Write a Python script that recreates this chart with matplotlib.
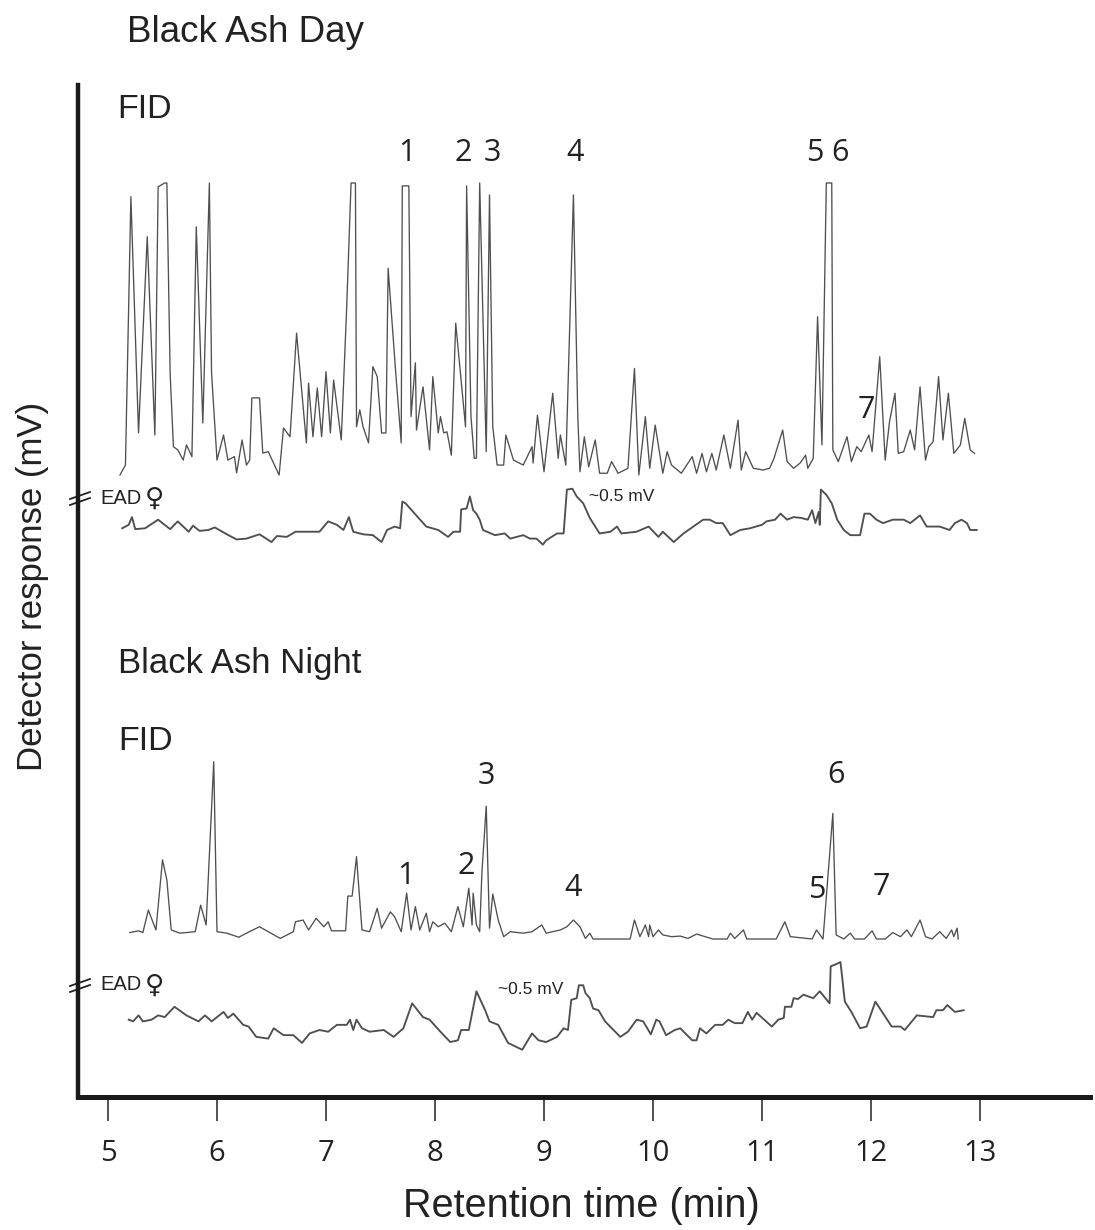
import matplotlib
matplotlib.use("Agg")
import matplotlib.pyplot as plt
from matplotlib.lines import Line2D

# ---------------- data (retention time in min, responses) ----------------
day_fid_t = [5.11,5.16,5.21,5.28,5.36,5.43,5.46,5.52,5.54,5.57,5.60,5.64,5.69,5.72,5.77,5.81,5.87,5.93,5.95,6.00,
             6.06,6.10,6.16,6.18,6.23,6.27,6.30,6.32,6.39,6.42,6.47,6.57,6.61,6.67,6.73,6.82,6.84,6.88,6.92,6.96,
             7.00,7.04,7.07,7.14,7.19,7.23,7.27,7.28,7.31,7.34,7.39,7.43,7.47,7.51,7.55,7.57,7.64,7.69,7.70,7.76,
             7.78,7.82,7.83,7.89,7.95,7.98,8.03,8.05,8.08,8.11,8.15,8.19,8.28,8.29,8.33,8.36,8.38,8.41,8.47,8.50,
             8.53,8.57,8.63,8.65,8.72,8.81,8.89,8.90,8.94,9.00,9.08,9.13,9.15,9.20,9.27,9.31,9.33,9.37,9.41,9.47,
             9.51,9.58,9.62,9.68,9.77,9.83,9.87,9.93,9.97,10.02,10.09,10.13,10.17,10.26,10.36,10.40,10.45,10.49,10.54,10.58,
             10.65,10.71,10.78,10.81,10.85,10.92,11.01,11.07,11.11,11.19,11.23,11.29,11.35,11.40,11.42,11.47,11.51,11.55,11.59,11.64,
             11.65,11.70,11.78,11.82,11.87,11.91,11.98,12.01,12.08,12.13,12.17,12.22,12.25,12.30,12.36,12.40,12.45,12.50,12.53,12.57,
             12.62,12.66,12.71,12.76,12.82,12.86,12.91,12.95]
day_fid_r = [0,3.4,95.3,14.4,81.6,13.7,98.7,100,100,34.9,9.7,8.6,5.1,10.3,6.3,85.0,17.8,100,34.9,5.1,
             13.7,5.1,6.3,0.7,12.0,3.4,5.1,26.4,26.4,7.5,8.0,0,16.1,13.1,48.6,11.0,31.5,13.1,29.8,13.1,
             35.4,14.4,32.5,12.0,57.6,100,100,16.5,22.3,16.5,11.0,37.1,33.7,14.4,14.4,70.8,34.9,11.0,99,99,
             20.0,38.4,15.4,30.2,8.6,33.7,14.4,20.0,14.4,14.8,6.8,52.0,16.5,99,20.0,5.7,5.8,100,8.0,95.9,
             16.5,3.4,3.4,13.7,5.1,3.4,9.7,4.1,20.5,1.1,28.0,5.7,13.7,3.4,95.9,20.0,1.1,13.1,2.8,12.0,
             0.6,0.6,4.6,0.6,2.3,36.5,0,20.0,2.3,17.1,0.6,8.0,3.4,0.6,6.3,0.6,7.4,1.1,7.4,1.7,
             13.7,2.3,18.8,1.7,8.0,2.3,1.7,2.3,5.7,15.4,4.6,2.3,4.1,6.8,2.3,5.7,54.2,10.3,100,100,
             8.6,4.6,13.1,4.6,9.7,8.0,13.7,8.0,40.5,5.1,18.3,28.0,7.4,8.0,15.4,8.6,30.2,5.1,9.7,11.4,
             33.7,12.0,28.0,7.4,10.3,19.4,8.6,7.4]

day_ead_t = [5.13,5.19,5.22,5.25,5.34,5.46,5.57,5.64,5.74,5.78,5.84,5.92,5.98,6.09,6.18,6.27,6.39,6.50,6.55,6.64,
             6.72,6.82,6.94,7.02,7.10,7.16,7.21,7.25,7.34,7.43,7.51,7.56,7.63,7.68,7.70,7.73,7.80,7.92,8.03,8.12,
             8.17,8.23,8.24,8.29,8.32,8.35,8.38,8.41,8.44,8.55,8.64,8.69,8.81,8.87,8.93,8.99,9.02,9.12,9.18,9.21,
             9.26,9.30,9.36,9.42,9.51,9.61,9.67,9.71,9.85,9.96,10.05,10.09,10.19,10.28,10.37,10.46,10.52,10.58,10.64,10.71,
             10.80,10.89,11.00,11.04,11.12,11.17,11.23,11.29,11.36,11.42,11.46,11.49,11.52,11.53,11.54,11.59,11.64,11.69,11.75,11.81,
             11.90,11.94,11.99,12.05,12.11,12.20,12.30,12.36,12.45,12.51,12.63,12.72,12.77,12.83,12.88,12.91,12.97]
day_ead_mv = [0.02,0.06,0.15,0.01,0.02,0.12,0.01,0.10,-0.02,0.05,-0.01,0,0.03,-0.05,-0.11,-0.10,-0.05,-0.14,-0.07,-0.08,
              -0.02,-0.02,-0.02,0.10,0.06,0,0.15,-0.02,-0.05,-0.06,-0.14,0,0.04,0.02,0.33,0.31,0.21,0.04,0,-0.08,
              -0.02,-0.02,0.24,0.25,0.39,0.23,0.19,0.12,0,-0.06,-0.04,-0.10,-0.06,-0.10,-0.10,-0.17,-0.12,-0.04,-0.04,0.47,
              0.48,0.39,0.31,0.14,-0.04,-0.02,0.04,-0.04,-0.02,0.04,-0.08,-0.02,-0.14,-0.04,0.04,0.12,0.12,0.08,0.08,-0.06,
              0,0.02,0.06,0.10,0.12,0.19,0.12,0.15,0.14,0.12,0.23,0.08,0.21,0.06,0.47,0.41,0.31,0.12,0,-0.06,
              -0.06,0.19,0.19,0.12,0.08,0.12,0.12,0.08,0.17,0.04,0.04,0,0.08,0.12,0.08,0,0]

night_fid_t = [5.20,5.28,5.32,5.37,5.44,5.50,5.54,5.58,5.66,5.80,5.85,5.90,5.97,6.00,6.09,6.20,6.27,6.39,6.58,6.70,
               6.72,6.79,6.84,6.91,6.98,7.02,7.05,7.18,7.20,7.24,7.28,7.33,7.40,7.47,7.51,7.59,7.63,7.69,7.74,7.78,
               7.82,7.86,7.92,7.95,7.98,8.03,8.09,8.15,8.21,8.26,8.31,8.34,8.35,8.38,8.41,8.43,8.47,8.50,8.53,8.58,
               8.63,8.69,8.81,8.89,8.98,9.02,9.15,9.21,9.27,9.33,9.38,9.42,9.45,9.79,9.83,9.88,9.93,9.96,9.97,10.00,
               10.05,10.09,10.17,10.25,10.32,10.40,10.46,10.55,10.68,10.71,10.75,10.83,10.86,11.13,11.21,11.26,11.46,11.50,11.56,11.65,
               11.68,11.75,11.81,11.85,11.94,12.01,12.05,12.13,12.20,12.27,12.33,12.37,12.45,12.50,12.56,12.63,12.69,12.74,12.76,12.79,
               12.80]
night_fid_r = [2.2,2.8,2.2,9.9,3.1,27.1,20.2,3.1,2.0,2.5,11.6,4.8,60.7,2.5,2.0,0.6,2.0,4.2,0.2,2.5,
               5.9,6.5,3.1,7.1,4.2,5.9,2.8,2.8,14.7,14.7,28.2,3.1,2.5,10.5,3.7,9.3,7.6,2.5,15.7,3.1,
               11.1,3.1,8.8,2.5,5.9,4.2,5.4,2.5,11.1,4.2,17.4,4.8,15.7,4.8,2.5,22.5,45.5,3.7,15.4,6.5,
               0.8,2.5,2.0,2.5,4.8,2.0,3.1,4.2,6.5,4.2,0.2,2.0,0,0,6.5,0.8,4.8,0.8,4.8,0.8,
               3.1,1.4,0.8,1.0,0.2,1.7,1.0,0,0,2.0,0.2,3.1,0,0,5.9,0.8,0,3.1,0,43.0,
               1.4,0,2.0,0,0,2.8,0,0,2.2,0.8,3.1,0.8,6.5,0.8,0,2.5,0.2,3.1,0.8,3.7,
               0]

night_ead_t = [5.19,5.23,5.28,5.32,5.40,5.46,5.52,5.61,5.72,5.83,5.89,5.95,6.06,6.10,6.15,6.24,6.29,6.36,6.47,6.52,
               6.61,6.70,6.78,6.85,6.94,7.02,7.10,7.19,7.22,7.25,7.28,7.33,7.40,7.53,7.62,7.71,7.79,7.89,7.95,8.05,
               8.14,8.21,8.24,8.31,8.38,8.46,8.50,8.58,8.67,8.80,8.89,8.95,9.02,9.12,9.18,9.22,9.25,9.30,9.32,9.36,
               9.38,9.42,9.45,9.50,9.56,9.70,9.77,9.85,9.91,9.98,10.03,10.06,10.12,10.20,10.25,10.36,10.40,10.43,10.49,10.57,
               10.64,10.69,10.75,10.82,10.87,10.91,10.95,11.09,11.15,11.20,11.21,11.27,11.29,11.33,11.38,11.47,11.53,11.62,11.63,11.67,
               11.72,11.76,11.82,11.90,11.96,12.04,12.19,12.27,12.31,12.42,12.57,12.60,12.66,12.70,12.77,12.85]
night_ead_mv = [0.12,0.10,0.17,0.10,0.12,0.17,0.15,0.27,0.17,0.10,0.17,0.10,0.21,0.14,0.19,0.06,0.04,-0.08,-0.10,0.02,
                -0.06,-0.06,-0.15,-0.04,0,-0.02,0.06,0.06,0.12,0,0.12,0.02,-0.02,0,-0.08,0.02,0.31,0.15,0.12,-0.02,
                -0.14,-0.12,0,0,0.45,0.23,0.10,0.06,-0.15,-0.23,-0.04,-0.12,-0.14,-0.08,0.02,0,0.35,0.37,0.52,0.52,
                0.43,0.37,0.25,0.23,0.10,-0.08,-0.02,0.12,0.10,-0.05,0.12,0.10,-0.06,0,0.02,-0.12,-0.12,0.02,-0.04,0.06,
                0.06,0.12,0.08,0.08,0.21,0.12,0.20,0.04,0.12,0.14,0.27,0.27,0.37,0.36,0.41,0.37,0.45,0.31,0.74,0.76,
                0.79,0.33,0.21,0.02,0.04,0.33,0.04,0.04,0,0.17,0.15,0.23,0.23,0.29,0.21,0.23]

x_ticks = [5, 6, 7, 8, 9, 10, 11, 12, 13]
peak_labels = ["1", "2", "3", "4", "5", "6", "7"]

# ---------------- layout ----------------
W, H = 1095, 1230
fig = plt.figure(figsize=(W / 100, H / 100), dpi=100)
ax_l, ax_r, ax_t, ax_b = 78, 1090, 85, 1097
ax = fig.add_axes([ax_l / W, 1 - ax_b / H, (ax_r - ax_l) / W, (ax_b - ax_t) / H])
ax.set_xlim(5 - 30 / 109, 5 + 982 / 109)
ax.set_ylim(0, ax_b - ax_t)


def P(x, y):
    """pixel position in the picture -> axes data position"""
    return 5 + (x - 108) / 109, ax_b - y


FID_SCALE = 2.92   # layout units per % of full scale
EAD_SCALE = 86.0   # layout units per mV
trace_col = "#4f4f4f"
txt_col = "#222222"

ax.plot(day_fid_t, [ax_b - 475 + FID_SCALE * v for v in day_fid_r], color=trace_col, lw=0.95)
ax.plot(day_ead_t, [ax_b - 530 + EAD_SCALE * v for v in day_ead_mv], color=trace_col, lw=1.35)
ax.plot(night_fid_t, [ax_b - 939 + FID_SCALE * v for v in night_fid_r], color=trace_col, lw=0.95)
ax.plot(night_ead_t, [ax_b - 1030 + EAD_SCALE * v for v in night_ead_mv], color=trace_col, lw=1.35)

# spines and ticks
for s in ("top", "right"):
    ax.spines[s].set_visible(False)
ax.spines["left"].set_linewidth(3.2)
ax.spines["bottom"].set_linewidth(3.6)
ax.spines["left"].set_color("#1a1a1a")
ax.spines["bottom"].set_color("#1a1a1a")
ax.set_yticks([])
ax.set_xticks(x_ticks)
ax.set_xticklabels([str(t) for t in x_ticks], fontfamily="Open Sans", fontsize=21, color=txt_col)
ax.tick_params(axis="x", direction="out", length=17, width=1.1, color="#222222", pad=13)

# axis labels
fig.text(581 / W, 1 - 1206 / H, "Retention time (min)", ha="center", va="center",
         fontsize=28.5, fontfamily="Liberation Sans", color=txt_col)
fig.text(33 / W, 1 - 586 / H, "Detector response (mV)", ha="center", va="center", rotation=90,
         fontsize=25, fontfamily="Liberation Sans", color=txt_col)

# panel titles
fig.text(127 / W, 1 - 41.7 / H, "Black Ash Day", ha="left", va="baseline",
         fontsize=26.5, fontfamily="Liberation Sans", color=txt_col)
fig.text(117 / W, 1 - 118 / H, "FID", ha="left", va="baseline",
         fontsize=24.5, fontfamily="Liberation Sans", color=txt_col)
fig.text(118 / W, 1 - 673 / H, "Black Ash Night", ha="left", va="baseline",
         fontsize=25, fontfamily="Liberation Sans", color=txt_col)
fig.text(118 / W, 1 - 750 / H, "FID", ha="left", va="baseline",
         fontsize=24.5, fontfamily="Liberation Sans", color=txt_col)

# EAD labels and axis-break marks
for ypx in (498, 985):
    ax.text(*P(100, ypx), "EAD", ha="left", va="center", fontsize=14.5,
            fontfamily="Liberation Sans", color=txt_col)
    ax.text(*P(145, ypx + 1), "\u2640", ha="left", va="center", fontsize=19,
            fontfamily=["DejaVu Sans"], fontweight="bold", color=txt_col)
    for dy in (-3, 3):
        x0, y0 = P(70, ypx + dy + 4)
        x1, y1 = P(90, ypx + dy - 3)
        ax.add_line(Line2D([x0, x1], [y0, y1], color="#222222", lw=1.3, clip_on=False))
ax.text(*P(589, 496), "~0.5 mV", ha="left", va="center", fontsize=12.5,
        fontfamily="Liberation Sans", color=txt_col)
ax.text(*P(498, 990), "~0.5 mV", ha="left", va="center", fontsize=12.5,
        fontfamily="Liberation Sans", color=txt_col)

# peak numbers
day_label_px = [(407, 153), (463, 153), (492, 153), (575, 153), (815, 153), (840, 153), (866, 410)]
night_label_px = [(406, 876), (466, 866), (486, 776), (573, 888), (817, 890), (836, 775), (881, 887)]
for lab, (x, y) in zip(peak_labels, day_label_px):
    ax.text(*P(x, y), lab, ha="center", va="center", fontsize=22, fontfamily="Open Sans", color=txt_col)
for lab, (x, y) in zip(peak_labels, night_label_px):
    ax.text(*P(x, y), lab, ha="center", va="center", fontsize=22, fontfamily="Open Sans", color=txt_col)

fig.savefig("out.png", dpi=100, facecolor="white")
